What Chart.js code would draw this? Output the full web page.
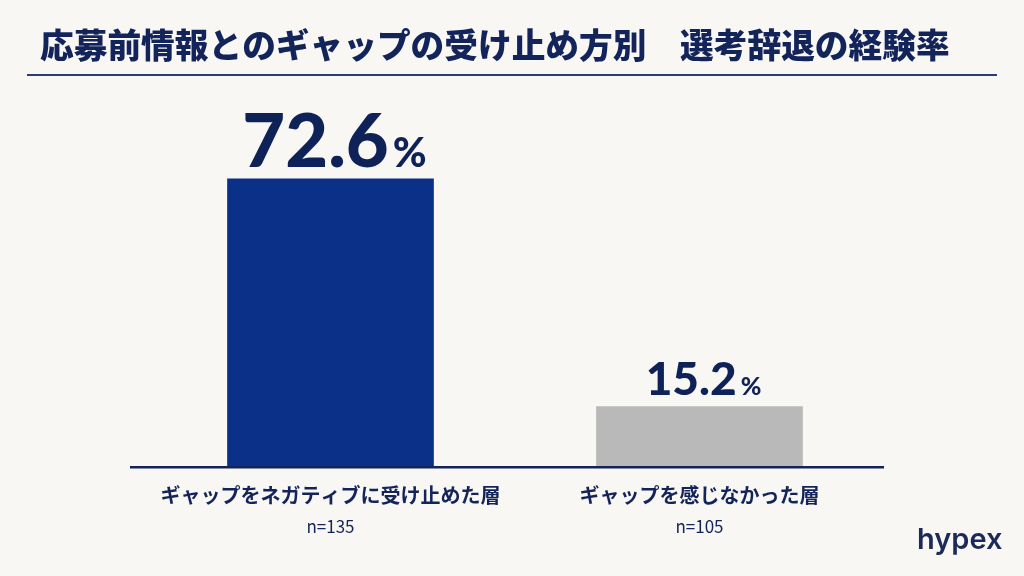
<!DOCTYPE html>
<html lang="ja">
<head>
<meta charset="utf-8">
<script src="https://cdn.jsdelivr.net/npm/chart.js@4.4.1/dist/chart.umd.min.js"></script>
<style>
  html, body { margin: 0; padding: 0; background: #f8f7f3; }
  #wrap { width: 1024px; height: 576px; }
</style>
</head>
<body>
<div id="wrap"><canvas id="myChart" width="1024" height="576"></canvas></div>
<script>
const titleText = "応募前情報とのギャップの受け止め方別　選考辞退の経験率";
const groupLabels = ["ギャップをネガティブに受け止めた層", "ギャップを感じなかった層"];
const sampleSizes = ["n=135", "n=105"];
const rates = [72.6, 15.2];
const barColors = ["#0b3088", "#b9b9b9"];
const valueSizes = [74, 46];   // font px for the number, per bar
const NAVY = "#13245a";

// background, title, baseline, labels
const decorPlugin = {
  id: "decor",
  beforeDraw(chart) {
    const ctx = chart.ctx;
    ctx.save();
    ctx.fillStyle = "#f8f7f3";
    ctx.fillRect(0, 0, chart.width, chart.height);
    ctx.restore();
  },
  afterDatasetsDraw(chart) {
    const { ctx, chartArea, scales } = chart;
    ctx.save();

    // title + rule
    ctx.fillStyle = NAVY;
    ctx.font = "900 33.7px 'Noto Sans CJK JP'";
    ctx.textBaseline = "middle";
    ctx.textAlign = "left";
    ctx.fillText(titleText, 40, 45);
    ctx.fillStyle = "#2b3b7b";
    ctx.fillRect(27, 74, 970, 2);

    // baseline
    const y0 = scales.y.getPixelForValue(0);
    ctx.fillStyle = NAVY;
    ctx.fillRect(130, y0 - 1, chartArea.right - 130, 2.5);

    // value labels above bars
    chart.getDatasetMeta(0).data.forEach((bar, i) => {
      const big = valueSizes[i];
      const small = Math.round(big * 0.55);
      const num = rates[i].toFixed(1);
      const sp = "0px";
      ctx.textBaseline = "alphabetic";
      ctx.textAlign = "left";
      ctx.font = "900 " + big + "px Lato";
      ctx.letterSpacing = sp;
      const wNum = ctx.measureText(num).width;
      ctx.font = "900 " + small + "px Lato";
      ctx.letterSpacing = "0px";
      const wPct = ctx.measureText("%").width;
      const x0 = bar.x + 4 - (wNum + wPct + 4) / 2;
      const yb = bar.y - 12;
      ctx.fillStyle = "#0f2258";
      ctx.font = "900 " + big + "px Lato";
      ctx.letterSpacing = sp;
      ctx.fillText(num, x0, yb);
      ctx.font = "900 " + small + "px Lato";
      ctx.letterSpacing = "0px";
      ctx.fillText("%", x0 + wNum + 4, yb);
    });

    // category labels + sample sizes
    groupLabels.forEach((lab, i) => {
      const cx = scales.x.getPixelForValue(i);
      ctx.textAlign = "center";
      ctx.textBaseline = "middle";
      ctx.fillStyle = NAVY;
      ctx.font = "700 20px 'Noto Sans CJK JP'";
      ctx.fillText(lab, cx, 495);
      ctx.font = "400 17px 'Noto Sans CJK JP'";
      ctx.fillText(sampleSizes[i], cx, 527);
    });

    // logo
    ctx.textAlign = "left";
    ctx.textBaseline = "alphabetic";
    ctx.font = "600 29px Inter";
    ctx.fillStyle = "#1c2a5a";
    ctx.fillText("hypex", 917, 549);

    ctx.restore();
  }
};

const config = {
  type: "bar",
  data: {
    labels: groupLabels,
    datasets: [
      {
        data: rates,
        backgroundColor: barColors,
        borderWidth: 0,
        barThickness: 206,
      },
    ],
  },
  options: {
    responsive: false,
    animation: false,
    devicePixelRatio: 1,
    layout: { padding: { left: 146, right: 140, top: 70, bottom: 109 } },
    scales: {
      x: { display: false },
      y: { display: false, min: 0, max: 100 },
    },
    plugins: {
      legend: { display: false },
      tooltip: { enabled: false },
    },
  },
  plugins: [decorPlugin],
};

const myChart = new Chart(document.getElementById("myChart"), config);
</script>
</body>
</html>
